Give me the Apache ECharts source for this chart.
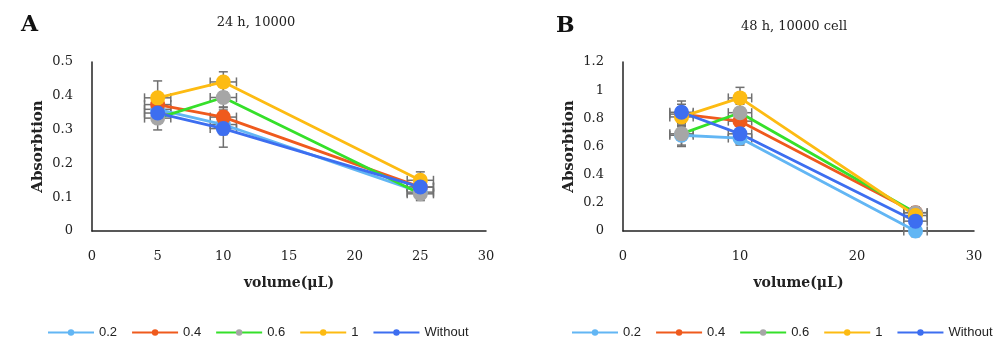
<!DOCTYPE html>
<html>
<head>
<meta charset="utf-8">
<script src="https://cdn.jsdelivr.net/npm/echarts@6/dist/echarts.min.js"></script>
<style>
  html, body { margin: 0; padding: 0; background: #fff; }
  #chart { width: 1000px; height: 354px; }
</style>
</head>
<body>
<div id="chart"></div>
<script>
// volumes on x axis
var volumes = [5, 10, 25];
var seriesNames = ['0.2', '0.4', '0.6', '1', 'Without'];
var lineColors = ['#62b6f4', '#ef5a1d', '#35e02a', '#fdbb12', '#3d6ef0'];
var markerColors = ['#62b6f4', '#ef5a1d', '#a6a6a6', '#fdbb12', '#3d6ef0'];

// panel A : 24 h, 10000
var a02 = [0.36, 0.315, 0.115];
var a04 = [0.374, 0.337, 0.13];
var a06 = [0.334, 0.395, 0.11];
var a1 = [0.394, 0.441, 0.15];
var aWithout = [0.349, 0.303, 0.13];
var a02Err = [0.03, 0.03, 0.02];
var a04Err = [0.03, 0.03, 0.02];
var a06Err = [0.035, 0.03, 0.02];
var a1Err = [0.05, 0.03, 0.025];
var aWithoutErr = [0.03, 0.055, 0.02];

// panel B : 48 h, 10000 cell
var b02 = [0.68, 0.66, 0.0];
var b04 = [0.83, 0.78, 0.13];
var b06 = [0.69, 0.84, 0.13];
var b1 = [0.81, 0.945, 0.11];
var bWithout = [0.843, 0.69, 0.07];
var b02Err = [0.07, 0.05, 0.04];
var b04Err = [0.07, 0.06, 0.04];
var b06Err = [0.09, 0.06, 0.04];
var b1Err = [0.07, 0.075, 0.04];
var bWithoutErr = [0.08, 0.07, 0.05];

var xErr = [1, 1, 1];

var panelA = [a02, a04, a06, a1, aWithout];
var panelAErr = [a02Err, a04Err, a06Err, a1Err, aWithoutErr];
var panelB = [b02, b04, b06, b1, bWithout];
var panelBErr = [b02Err, b04Err, b06Err, b1Err, bWithoutErr];

var serif = 'DejaVu Serif';

function errorBarItem(params, api) {
	var x = api.value(0), y = api.value(1), ye = api.value(2), xe = api.value(3);
	var top = api.coord([x, y + ye]);
	var bot = api.coord([x, y - ye]);
	var left = api.coord([x - xe, y]);
	var right = api.coord([x + xe, y]);
	var cap = 4.5;
	var st = { stroke: '#707070', lineWidth: 1.5 };
	var seg = function (x1, y1, x2, y2) {
		return { type: 'line', shape: { x1: x1, y1: y1, x2: x2, y2: y2 }, style: st };
	};
	return {
		type: 'group',
		children: [
			seg(top[0], top[1], bot[0], bot[1]),
			seg(top[0] - cap, top[1], top[0] + cap, top[1]),
			seg(bot[0] - cap, bot[1], bot[0] + cap, bot[1]),
			seg(left[0], left[1], right[0], right[1]),
			seg(left[0], left[1] - cap, left[0], left[1] + cap),
			seg(right[0], right[1] - cap, right[0], right[1] + cap)
		]
	};
}

function buildSeries(values, errs, axisIndex) {
	var out = [];
	values.forEach(function (vals, i) {
		out.push({
			type: 'line',
			name: seriesNames[i],
			xAxisIndex: axisIndex,
			yAxisIndex: axisIndex,
			symbol: 'circle',
			symbolSize: 15,
			z: 3,
			lineStyle: { color: lineColors[i], width: 2.8 },
			itemStyle: { color: markerColors[i] },
			data: volumes.map(function (v, k) { return [v, vals[k]]; })
		});
	});
	values.forEach(function (vals, i) {
		out.push({
			type: 'custom',
			name: seriesNames[i] + ' error',
			xAxisIndex: axisIndex,
			yAxisIndex: axisIndex,
			renderItem: errorBarItem,
			z: 1,
			silent: true,
			data: volumes.map(function (v, k) { return [v, vals[k], errs[i][k], xErr[k]]; })
		});
	});
	return out;
}

function xAxisCfg(idx, interval) {
	return {
		type: 'value', gridIndex: idx, min: 0, max: 30, interval: interval,
		name: 'volume(μL)', nameLocation: 'middle', nameGap: 45,
		nameTextStyle: { fontFamily: serif, fontWeight: 'bold', fontSize: 14, color: '#222' },
		axisLine: { lineStyle: { color: '#222', width: 1.5 } },
		axisTick: { show: false },
		splitLine: { show: false },
		axisLabel: { fontFamily: serif, fontSize: 13, color: '#222', margin: 19 }
	};
}

function yAxisCfg(idx, max, interval, gap) {
	return {
		type: 'value', gridIndex: idx, min: 0, max: max, interval: interval,
		name: 'Absorbtion', nameLocation: 'middle', nameGap: gap, nameRotate: 90,
		nameTextStyle: { fontFamily: serif, fontWeight: 'bold', fontSize: 15, color: '#222' },
		axisLine: { show: true, lineStyle: { color: '#222', width: 1.5 } },
		axisTick: { show: false },
		splitLine: { show: false },
		axisLabel: { fontFamily: serif, fontSize: 13, color: '#222', margin: 19 }
	};
}

function legendCfg(left) {
	return {
		left: left, top: 326, width: 426, padding: 0,
		itemWidth: 46, itemHeight: 8, itemGap: 14,
		textStyle: { fontFamily: 'Liberation Sans', fontSize: 13, color: '#222' },
		data: seriesNames
	};
}

var chart = echarts.init(document.getElementById('chart'), null, { renderer: 'canvas' });

var option = {
	animation: false,
	graphic: [
		{ type: 'text', left: 21, top: 14, style: { text: 'A', fontFamily: serif, fontWeight: 'bold', fontSize: 22, fill: '#111' } },
		{ type: 'text', left: 556, top: 15, style: { text: 'B', fontFamily: serif, fontWeight: 'bold', fontSize: 22, fill: '#111' } },
		{ type: 'text', x: 256, y: 16, style: { text: '24 h, 10000', fontFamily: serif, fontSize: 13, fill: '#222', align: 'center' } },
		{ type: 'text', x: 794, y: 20, style: { text: '48 h, 10000 cell', fontFamily: serif, fontSize: 13, fill: '#222', align: 'center' } }
	],
	legend: [legendCfg(47), legendCfg(571)],
	grid: [
		{ left: 92, width: 394, top: 62, height: 169 },
		{ left: 623, width: 351, top: 62, height: 169 }
	],
	xAxis: [xAxisCfg(0, 5), xAxisCfg(1, 10)],
	yAxis: [yAxisCfg(0, 0.5, 0.1, 46), yAxisCfg(1, 1.2, 0.2, 46)],
	series: buildSeries(panelA, panelAErr, 0).concat(buildSeries(panelB, panelBErr, 1))
};

chart.setOption(option);
</script>
</body>
</html>
